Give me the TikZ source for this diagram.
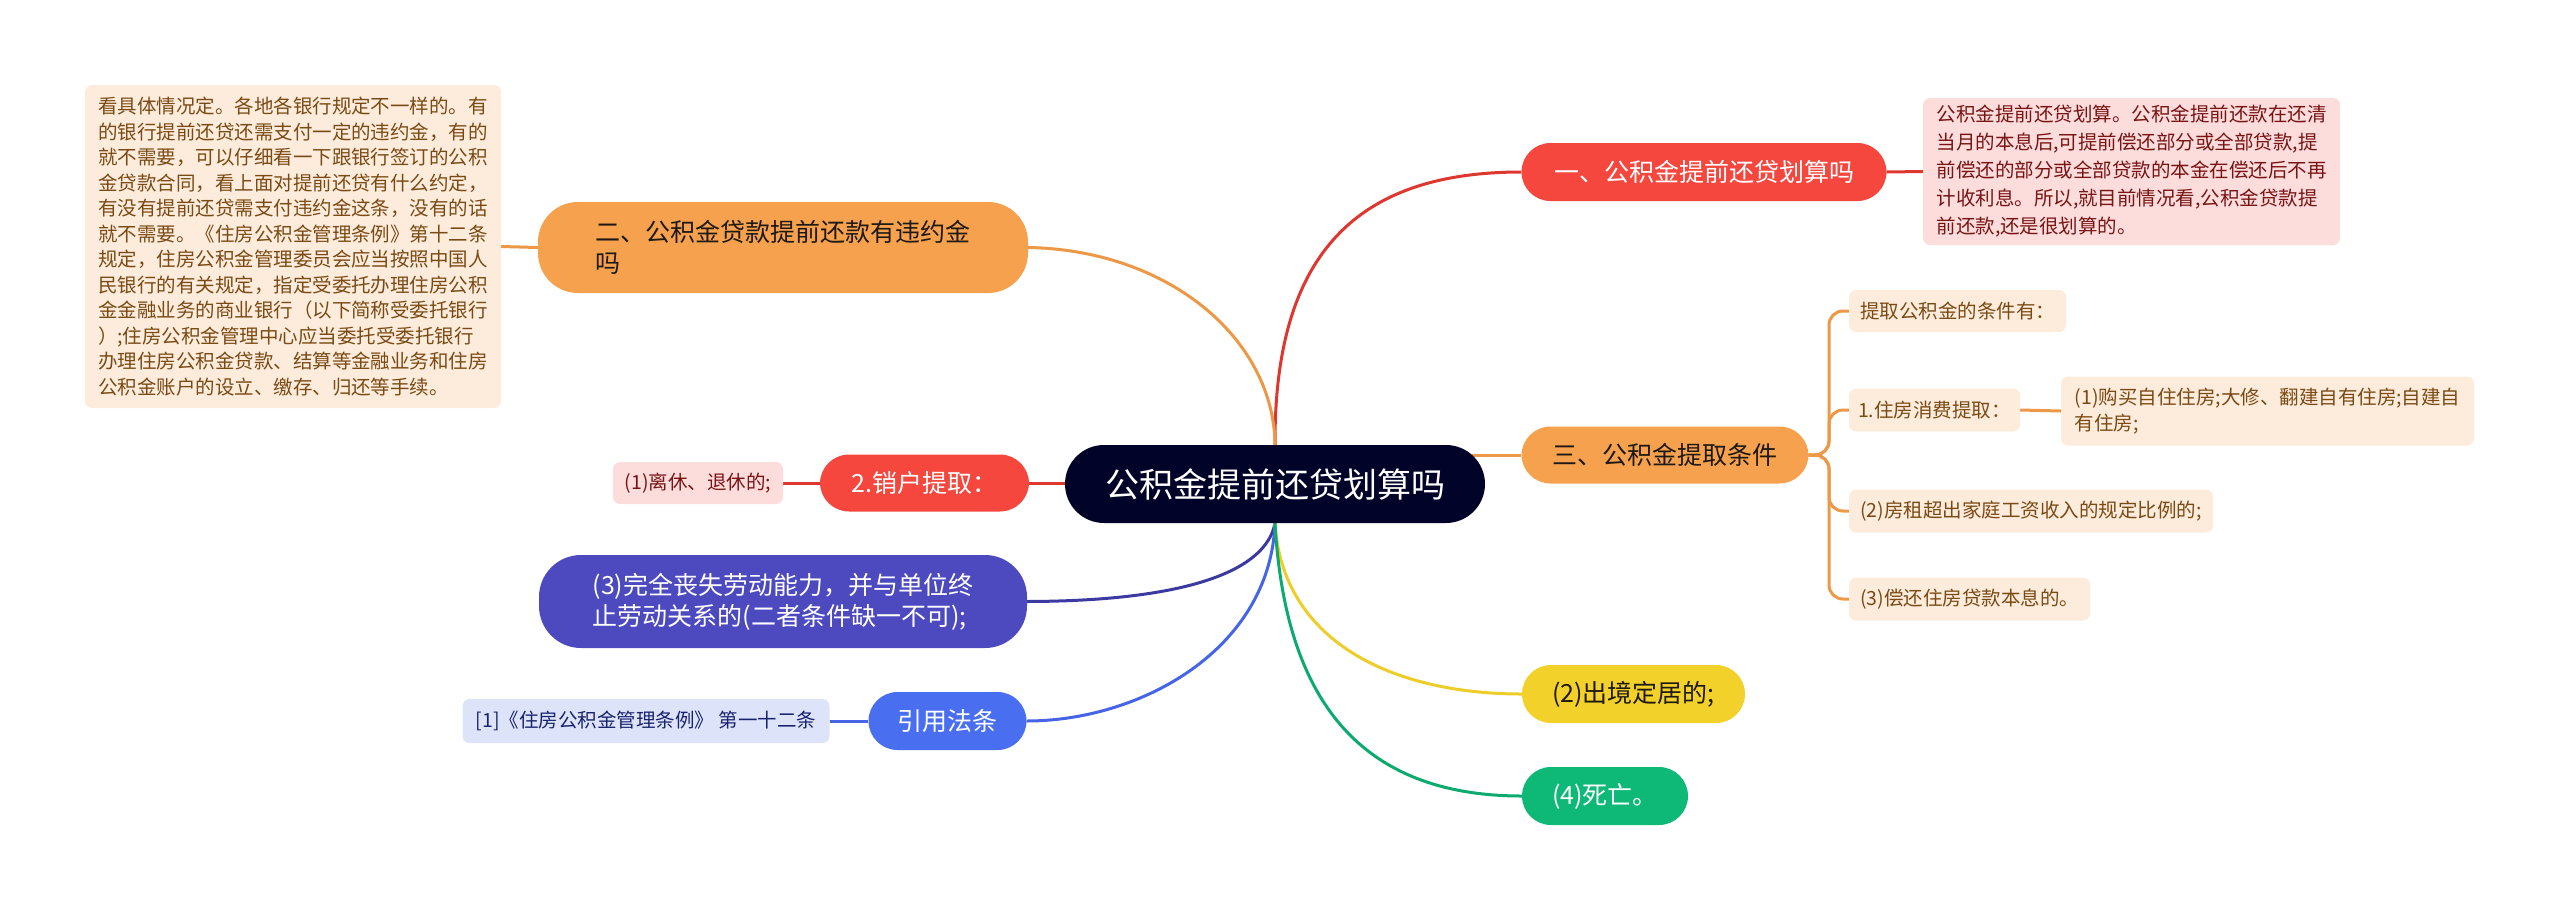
\documentclass[tikz,border=0pt]{standalone}
\usepackage{fontspec}
\setmainfont{Noto Sans CJK SC}
\usetikzlibrary{backgrounds}
\definecolor{rootNavy}{RGB}{2,3,40}
\definecolor{mainRed}{RGB}{245,71,62}
\definecolor{lineRed}{RGB}{222,55,48}
\definecolor{mainOrange}{RGB}{245,161,77}
\definecolor{lineOrange}{RGB}{236,152,70}
\definecolor{mainYellow}{RGB}{242,209,42}
\definecolor{lineYellow}{RGB}{238,205,40}
\definecolor{mainGreen}{RGB}{14,185,120}
\definecolor{lineGreen}{RGB}{12,170,110}
\definecolor{mainIndigo}{RGB}{76,74,190}
\definecolor{lineIndigo}{RGB}{60,58,160}
\definecolor{mainBlue}{RGB}{74,110,240}
\definecolor{lineBlue}{RGB}{70,100,230}
\definecolor{leafPink}{RGB}{253,220,220}
\definecolor{leafCream}{RGB}{253,236,220}
\definecolor{leafBlue}{RGB}{221,228,250}
\definecolor{textRed}{RGB}{120,20,20}
\definecolor{textBrown}{RGB}{122,74,20}
\definecolor{textNavy}{RGB}{25,35,110}
\definecolor{textDark}{RGB}{30,25,20}

\begin{document}
\begin{tikzpicture}[x=1pt, y=-1pt,
    topic/.style={rounded corners=29, inner sep=0, align=left,
      font=\fontsize{25}{31}\selectfont},
    leaf/.style={rounded corners=7, inner sep=0, align=left,
      font=\fontsize{19.5}{26}\selectfont},
    link/.style={line width=3}]
    \useasboundingbox (0,0) rectangle (2560,911);
    \coordinate (fork) at (1829,455);

    \node[fill=rootNavy, text=white, rounded corners=39, minimum width=420, minimum height=78,
      font=\fontsize{34}{40}\selectfont] (root) at (1275,484) {公积金提前还贷划算吗};

    % right side
    \node[topic, fill=mainRed, text=white, minimum width=365, minimum height=58] (yi) at (1704,172) {一、公积金提前还贷划算吗};
    \node[leaf, fill=leafPink, text=textRed, minimum width=417, minimum height=147,
      font=\fontsize{19.5}{28}\selectfont] (yiNote) at (2131.5,171.5)
      {公积金提前还贷划算。公积金提前还款在还清\\
       当月的本息后,可提前偿还部分或全部贷款,提\\
       前偿还的部分或全部贷款的本金在偿还后不再\\
       计收利息。所以,就目前情况看,公积金贷款提\\
       前还款,还是很划算的。};
    \node[topic, fill=mainOrange, text=textDark, minimum width=287, minimum height=57] (san) at (1665,455) {三、公积金提取条件};
    \node[leaf, fill=leafCream, text=textBrown, minimum width=217, minimum height=42] (cond) at (1957.5,311) {提取公积金的条件有：};
    \node[leaf, fill=leafCream, text=textBrown, minimum width=171, minimum height=43] (house) at (1934.5,410) {1.住房消费提取：};
    \node[leaf, fill=leafCream, text=textBrown, minimum width=413, minimum height=69] (buy) at (2267.5,411)
      {(1)购买自住住房;大修、翻建自有住房;自建自\\有住房;};
    \node[leaf, fill=leafCream, text=textBrown, minimum width=364, minimum height=43] (rent) at (2031,511) {(2)房租超出家庭工资收入的规定比例的;};
    \node[leaf, fill=leafCream, text=textBrown, minimum width=241, minimum height=43] (repay) at (1969.5,599) {(3)偿还住房贷款本息的。};
    \node[topic, fill=mainYellow, text=textDark, minimum width=223, minimum height=58] (abroad) at (1633.5,694) {(2)出境定居的;};
    \node[topic, fill=mainGreen, text=white, minimum width=166, minimum height=58] (death) at (1605,796) {(4)死亡。};

    % left side
    \node[topic, fill=mainOrange, text=textDark, rounded corners=40, minimum width=490, minimum height=91] (er) at (783,247.5)
      {二、公积金贷款提前还款有违约金\\吗};
    \node[leaf, fill=leafCream, text=textBrown, minimum width=416, minimum height=323,
      font=\fontsize{19.5}{25.5}\selectfont] (erNote) at (293,246.5)
      {看具体情况定。各地各银行规定不一样的。有\\
       的银行提前还贷还需支付一定的违约金，有的\\
       就不需要，可以仔细看一下跟银行签订的公积\\
       金贷款合同，看上面对提前还贷有什么约定，\\
       有没有提前还贷需支付违约金这条，没有的话\\
       就不需要。《住房公积金管理条例》第十二条\\
       规定，住房公积金管理委员会应当按照中国人\\
       民银行的有关规定，指定受委托办理住房公积\\
       金金融业务的商业银行（以下简称受委托银行\\
       ）;住房公积金管理中心应当委托受委托银行\\
       办理住房公积金贷款、结算等金融业务和住房\\
       公积金账户的设立、缴存、归还等手续。};
    \node[topic, fill=mainRed, text=white, minimum width=209, minimum height=57] (close) at (924.5,483) {2.销户提取：};
    \node[leaf, fill=leafPink, text=textRed, minimum width=170, minimum height=42] (retire) at (698,483) {(1)离休、退休的;};
    \node[topic, fill=mainIndigo, text=white, rounded corners=42, minimum width=488, minimum height=93] (disable) at (783,601.5)
      {(3)完全丧失劳动能力，并与单位终\\止劳动关系的(二者条件缺一不可);};
    \node[topic, fill=mainBlue, text=white, minimum width=158, minimum height=58] (law) at (947.5,721) {引用法条};
    \node[leaf, fill=leafBlue, text=textNavy, minimum width=367, minimum height=44] (lawRef) at (646,721) {[1]《住房公积金管理条例》 第一十二条};

    \begin{scope}[on background layer]
      \draw[link, lineRed] (root.north) .. controls (1274,250) and (1360,172) .. (yi.west);
      \draw[link, lineOrange] (root.north) .. controls (1274,340) and (1170,250) .. (er.east);
      \draw[link, lineOrange] (root.center |- san.west) -- (san.west);
      \draw[link, lineRed] (root.center |- close.east) -- (close.east);
      \draw[link, lineIndigo] (root.south) .. controls (1266,570) and (1190,601) .. (disable.east);
      \draw[link, lineBlue] (root.south) .. controls (1270,650) and (1140,721) .. (law.east);
      \draw[link, lineYellow] (root.south) .. controls (1282,640) and (1390,694) .. (abroad.west);
      \draw[link, lineGreen] (root.south) .. controls (1285,700) and (1360,796) .. (death.west);
      \draw[link, lineRed] (yi.east) -- (yiNote.west);
      \draw[link, lineOrange] (er.west) -- (erNote.east);
      \draw[link, lineRed] (close.west) -- (retire.east);
      \draw[link, lineBlue] (law.west) -- (lawRef.east);
      \draw[link, lineOrange] (house.east) -- (buy.west);
      \foreach \c in {cond,house,rent,repay}
        \draw[link, lineOrange, rounded corners=14] (san.east) -- (fork) |- (\c.west);
    \end{scope}
\end{tikzpicture}
\end{document}
